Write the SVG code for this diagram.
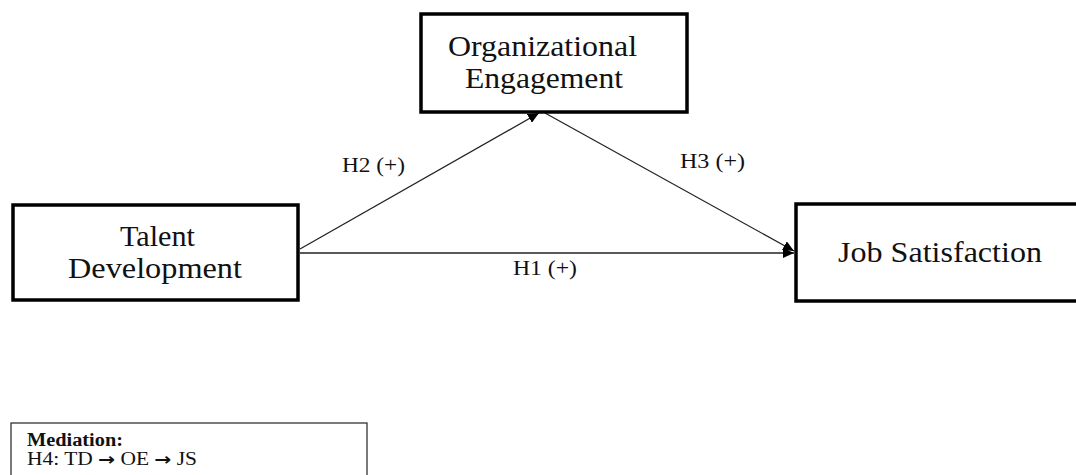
<svg xmlns="http://www.w3.org/2000/svg" width="1076" height="475" viewBox="0 0 1076 475">
<style>
.box{fill:#fff;stroke:#000;stroke-width:3.5}
.t{font-family:"Liberation Serif","Times New Roman",serif;font-size:29px;fill:#111}
.lbl{font-family:"Liberation Serif","Times New Roman",serif;font-size:20px;fill:#111}
.leg{font-family:"Liberation Serif","Times New Roman",serif;font-size:18px;fill:#111}
.arr{font-family:"DejaVu Sans",sans-serif;font-weight:bold;font-size:17px}
.conn{stroke:#222;stroke-width:1.3;fill:none}
</style>
<defs>
<marker id="ah" markerUnits="userSpaceOnUse" markerWidth="12" markerHeight="10" refX="11" refY="5" orient="auto">
<path d="M0,0 L11,5 L0,10 Z" fill="#000"/>
</marker>
</defs>
<rect width="1076" height="475" fill="#fff"/>
<g id="connectors">
<line class="conn" x1="300" y1="253" x2="794" y2="253" marker-end="url(#ah)"/>
<line class="conn" x1="300" y1="249" x2="539" y2="113" marker-end="url(#ah)"/>
<line class="conn" x1="545" y1="113" x2="794" y2="251" marker-end="url(#ah)"/>
<text class="lbl" x="342" y="172" textLength="63" lengthAdjust="spacingAndGlyphs">H2 (+)</text>
<text class="lbl" x="680" y="168" textLength="65" lengthAdjust="spacingAndGlyphs">H3 (+)</text>
<text class="lbl" x="513" y="275" textLength="64" lengthAdjust="spacingAndGlyphs">H1 (+)</text>
</g>
<g id="node-td">
<rect class="box" x="13" y="205" width="285" height="95"/>
<text class="t" x="120" y="246" textLength="75" lengthAdjust="spacingAndGlyphs">Talent</text>
<text class="t" x="68" y="278" textLength="174" lengthAdjust="spacingAndGlyphs">Development</text>
</g>
<g id="node-oe">
<rect class="box" x="421" y="14" width="266" height="98"/>
<text class="t" x="448" y="56" textLength="189" lengthAdjust="spacingAndGlyphs">Organizational</text>
<text class="t" x="465" y="88" textLength="158" lengthAdjust="spacingAndGlyphs">Engagement</text>
</g>
<g id="node-js">
<rect class="box" x="796" y="204" width="300" height="97"/>
<text class="t" x="838" y="262" textLength="204" lengthAdjust="spacingAndGlyphs">Job Satisfaction</text>
</g>
<g id="legend">
<rect x="11" y="423" width="356" height="70" fill="#fff" stroke="#333" stroke-width="1.3"/>
<text class="leg" x="27" y="446" font-weight="bold" textLength="96" lengthAdjust="spacingAndGlyphs">Mediation:</text>
<text class="leg" x="27" y="465" textLength="170" lengthAdjust="spacingAndGlyphs">H4: TD <tspan class="arr">→</tspan> OE <tspan class="arr">→</tspan> JS</text>
</g>
</svg>
